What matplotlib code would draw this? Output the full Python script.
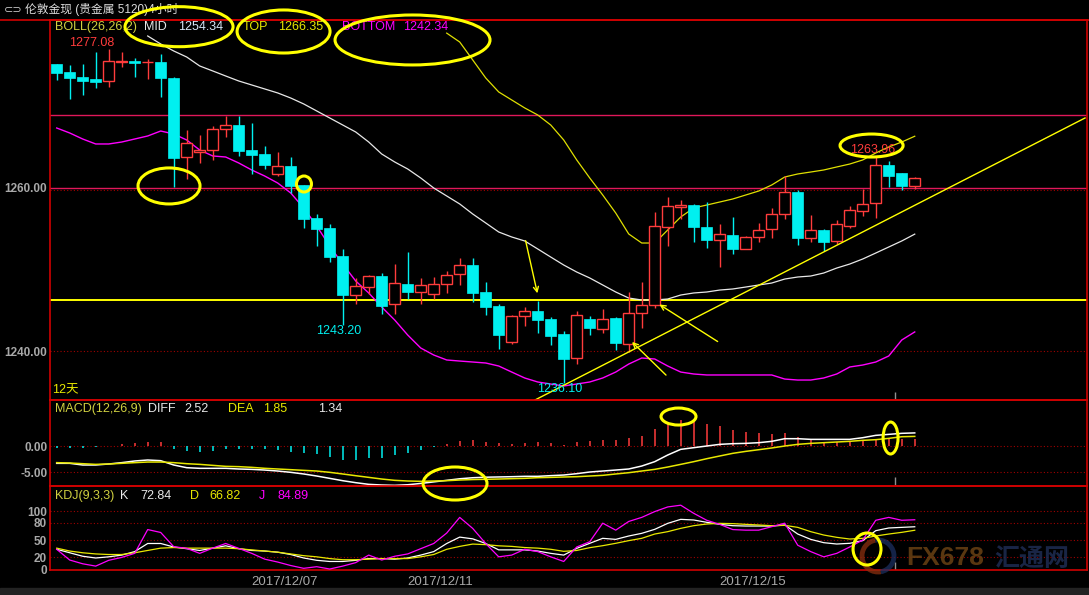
import numpy as np
import matplotlib
matplotlib.use('Agg')
import matplotlib.pyplot as plt
from matplotlib.patches import Ellipse, Arc, Rectangle
from matplotlib.lines import Line2D

plt.rcParams['font.family'] = ['Liberation Sans', 'Noto Sans CJK SC', 'DejaVu Sans']

nan = np.nan

# ---------------- data ----------------
opens = [1275.21, 1274.23, 1273.62, 1273.34, 1273.17, 1275.48, 1275.62, 1275.42, 1275.42, 1273.46,
         1263.77, 1264.45, 1264.63, 1267.28, 1267.69, 1264.66, 1264.17, 1261.72, 1262.74, 1260.37,
         1256.32, 1255.06, 1251.66, 1246.91, 1247.82, 1249.20, 1245.80, 1248.22, 1247.28, 1247.00,
         1248.18, 1249.41, 1250.55, 1247.20, 1245.52, 1241.07, 1244.34, 1244.91, 1243.93, 1242.05,
         1239.12, 1243.89, 1242.74, 1244.05, 1240.86, 1244.63, 1245.64, 1255.18, 1257.71, 1257.88,
         1255.18, 1253.60, 1254.20, 1252.48, 1253.95, 1254.93, 1256.77, 1259.51, 1253.83, 1254.85,
         1253.46, 1255.37, 1257.21, 1258.12, 1262.82, 1261.84, 1260.28]
highs = [1275.21, 1275.09, 1275.21, 1276.65, 1277.08, 1276.65, 1275.91, 1275.83, 1276.44, 1273.58,
         1267.12, 1266.50, 1267.61, 1268.83, 1268.83, 1268.01, 1265.15, 1264.45, 1263.84, 1260.40,
         1256.77, 1255.58, 1252.52, 1248.96, 1249.33, 1249.60, 1250.67, 1252.18, 1248.96, 1249.12,
         1249.82, 1251.37, 1251.37, 1248.43, 1245.73, 1244.42, 1245.36, 1246.13, 1244.13, 1242.45,
         1244.91, 1244.29, 1245.15, 1244.20, 1247.28, 1248.50, 1257.09, 1258.86, 1258.53, 1258.04,
         1258.28, 1255.55, 1256.40, 1254.07, 1255.67, 1257.55, 1261.44, 1259.72, 1256.69, 1255.00,
         1256.07, 1257.79, 1259.84, 1263.96, 1263.31, 1261.84, 1261.39]
lows = [1273.25, 1270.96, 1271.41, 1272.31, 1272.44, 1274.81, 1273.66, 1273.37, 1271.13, 1260.16,
        1261.07, 1263.03, 1263.44, 1266.29, 1263.96, 1261.72, 1262.33, 1261.51, 1259.35, 1255.13,
        1252.92, 1250.96, 1243.20, 1245.80, 1247.00, 1244.54, 1244.54, 1246.42, 1245.80, 1246.38,
        1247.15, 1248.10, 1246.05, 1244.42, 1240.28, 1240.86, 1243.10, 1242.25, 1240.77, 1236.10,
        1238.40, 1241.96, 1242.21, 1240.12, 1239.91, 1242.78, 1245.24, 1252.92, 1256.16, 1253.41,
        1252.67, 1250.27, 1251.90, 1252.48, 1253.41, 1253.90, 1256.16, 1253.04, 1253.41, 1252.31,
        1253.13, 1255.13, 1256.56, 1256.36, 1260.16, 1259.75, 1259.88]
closes = [1274.15, 1273.53, 1273.17, 1273.04, 1275.62, 1275.58, 1275.37, 1275.50, 1273.53, 1263.64,
          1265.48, 1264.66, 1267.20, 1267.69, 1264.58, 1264.09, 1262.82, 1262.70, 1260.28, 1256.20,
          1254.97, 1251.57, 1246.91, 1247.98, 1249.17, 1245.56, 1248.31, 1247.28, 1248.06, 1248.22,
          1249.33, 1250.55, 1247.15, 1245.44, 1242.00, 1244.26, 1244.87, 1243.84, 1241.88, 1239.06,
          1244.38, 1242.86, 1243.89, 1241.02, 1244.63, 1245.61, 1255.30, 1257.75, 1257.95, 1255.25,
          1253.66, 1254.32, 1252.48, 1253.95, 1254.81, 1256.77, 1259.47, 1253.90, 1254.81, 1253.34,
          1255.55, 1257.26, 1258.04, 1262.79, 1261.51, 1260.28, 1261.19]

boll_mid = [nan, nan, nan, nan, nan, nan, nan, 1278.65, 1277.67, 1276.81,
            1276.07, 1274.97, 1274.36, 1273.74, 1273.13, 1272.64, 1272.15, 1271.66, 1271.04, 1270.31,
            1269.45, 1268.59, 1267.73, 1266.87, 1265.64, 1264.17, 1263.19, 1262.33, 1261.23, 1260.00,
            1259.02, 1258.04, 1256.81, 1255.71, 1254.60, 1253.99, 1253.50, 1252.52, 1251.53, 1250.55,
            1249.69, 1248.96, 1248.10, 1247.24, 1246.50, 1246.26, 1246.26, 1246.38, 1246.87, 1247.12,
            1247.24, 1247.48, 1247.61, 1247.85, 1248.10, 1248.34, 1248.83, 1249.08, 1249.20, 1249.57,
            1250.18, 1250.67, 1251.29, 1252.02, 1252.76, 1253.50, 1254.34]
boll_top = [nan] * 30 + [1279.00, 1277.91, 1275.71, 1273.50, 1271.78, 1270.80, 1269.82, 1268.96, 1267.73, 1265.89,
                         1263.44, 1261.23, 1259.14, 1256.93, 1254.36, 1253.25, 1253.25, 1254.85, 1256.44, 1257.55,
                         1257.91, 1258.28, 1258.65, 1259.14, 1259.63, 1260.37, 1261.35, 1261.72, 1261.96, 1262.21,
                         1262.58, 1262.94, 1263.44, 1264.29, 1265.03, 1265.64, 1266.35]
boll_bot = [1267.36, 1266.75, 1266.01, 1265.40, 1265.40, 1265.64, 1266.01, 1266.38, 1266.99, 1266.63,
            1265.89, 1264.66, 1263.93, 1263.80, 1263.07, 1262.21, 1261.47, 1260.61, 1259.39, 1257.55,
            1255.34, 1252.88, 1250.67, 1248.59, 1247.12, 1245.40, 1243.80, 1241.96, 1240.37, 1239.51,
            1238.90, 1238.77, 1238.65, 1238.53, 1238.16, 1237.42, 1236.69, 1236.20, 1235.95, 1235.71,
            1235.95, 1236.20, 1236.69, 1237.42, 1238.40, 1239.14, 1239.02, 1238.16, 1237.42, 1237.18,
            1237.06, 1237.06, 1237.06, 1237.06, 1237.06, 1237.06, 1236.56, 1236.44, 1236.44, 1236.69,
            1237.18, 1238.04, 1238.28, 1238.65, 1239.39, 1241.35, 1242.34]

macd_hist = [-0.3, -0.3, -0.3, -0.25, 0.0, 0.3, 0.6, 0.8, 0.8, -0.5,
             -1.0, -1.15, -1.0, -0.65, -0.65, -0.65, -0.65, -0.75, -1.1, -1.3,
             -1.6, -2.05, -2.7, -2.75, -2.4, -2.4, -1.8, -1.3, -0.7, -0.2,
             0.3, 0.9, 1.15, 0.85, 0.5, 0.45, 0.65, 0.83, 0.65, 0.25,
             0.83, 1.0, 1.2, 1.2, 1.6, 2.0, 3.35, 4.4, 5.05, 4.6,
             4.3, 3.9, 3.15, 2.75, 2.55, 2.35, 2.55, 1.8, 1.4, 0.83,
             0.7, 0.83, 0.95, 1.4, 1.6, 1.4, 1.34]
macd_diff = [-3.33, -3.33, -3.65, -3.65, -3.46, -3.2, -2.88, -2.69, -2.82, -3.65,
             -4.17, -4.29, -4.29, -4.29, -4.42, -4.49, -4.62, -4.81, -5.06, -5.38,
             -5.77, -6.22, -6.67, -7.05, -7.37, -7.5, -7.56, -7.45, -7.2, -6.9,
             -6.6, -6.3, -6.1, -6.0, -5.95, -5.9, -5.83, -5.83, -5.7, -5.58,
             -5.32, -5.0, -4.81, -4.62, -4.42, -3.85, -3.01, -1.73, -0.64, -0.32,
             0.0, 0.32, 0.45, 0.51, 0.64, 0.9, 1.41, 1.41, 1.28, 1.28,
             1.28, 1.28, 1.6, 2.05, 2.24, 2.44, 2.52]
macd_dea = [-3.2, -3.27, -3.4, -3.53, -3.46, -3.33, -3.2, -3.08, -3.08, -3.2,
            -3.4, -3.53, -3.72, -3.91, -3.97, -4.1, -4.29, -4.42, -4.55, -4.68,
            -4.81, -5.06, -5.38, -5.71, -6.03, -6.35, -6.6, -6.73, -6.79, -6.73,
            -6.67, -6.54, -6.45, -6.4, -6.35, -6.28, -6.22, -6.09, -6.03, -5.96,
            -5.9, -5.77, -5.64, -5.38, -5.13, -4.81, -4.49, -4.04, -3.53, -3.01,
            -2.44, -1.92, -1.41, -1.03, -0.71, -0.38, 0.0, 0.32, 0.51, 0.64,
            0.77, 0.9, 1.09, 1.22, 1.47, 1.79, 1.85]

kdj_k = [34, 28, 22, 19, 21, 24, 30, 44, 44, 38,
         35, 32, 36, 40, 35, 32, 31, 29, 25, 19,
         15, 13, 13, 15, 18, 18, 17, 19, 24, 30,
         44, 55, 52, 44, 33, 33, 33, 31, 27, 24,
         35.6, 44.3, 52.9, 51.1, 56.9, 61.5, 68.4, 78.7, 85.6, 84.5,
         80.5, 77, 74.7, 74.1, 74.1, 74, 75.9, 60.3, 51.1, 45.4,
         43.1, 44.3, 48.9, 66.1, 70.7, 71.8, 72.84]
kdj_d = [36, 31, 28, 26, 25, 25, 28, 32, 36, 37,
         36, 36, 36, 36, 35, 33, 31, 29, 26, 23,
         21, 18, 16, 16, 17, 18, 18, 18, 21, 25,
         34, 39, 43, 42, 40, 39, 37, 36, 34, 30.5,
         32, 36.8, 40.2, 44.3, 48.9, 52.9, 60.3, 64.4, 70.1, 74.7,
         77.6, 78.7, 78.2, 77, 75.9, 74.7, 75.3, 71.8, 64.4, 58.6,
         54.6, 51.7, 52.9, 56.9, 60.3, 63.2, 66.82]
kdj_j = [34, 15.5, 9, 5, 15, 20, 27, 68, 63, 38.5,
         35.6, 27, 36, 44, 35.6, 27, 17, 12, 6, 1.2,
         4, 0, 5, 11, 24, 15.5, 22, 26, 35, 44,
         62, 89, 70, 44, 21, 24, 34, 30, 21, 13,
         38, 47, 79, 67, 82, 89, 99, 107, 110, 96,
         84, 77, 68, 67, 67, 73, 79, 41, 30, 21,
         27, 38, 50, 84, 89, 84, 84.89]

date_pos = [15, 27, 51]
date_labels = ['2017/12/07', '2017/12/11', '2017/12/15']

price_ticks = [1240, 1260]
macd_ticks = [0, -5]
kdj_ticks = [0, 20, 50, 80, 100]

# user-drawn annotation lines (data units: candle index, price)
hline_yellow = 1246.26
hline_pink = [1268.96, 1260.00]
trend_x = [36.79, 79.10]
trend_y = [1233.99, 1268.59]
arrows = [((36.02, 1253.87), (37.02, 1246.75)),
          ((51.02, 1240.98), (46.18, 1245.89)),
          ((47.02, 1236.81), (44.10, 1241.35))]

# ---------------- layout ----------------
W, H, DPI = 1089, 595, 100
RED = '#ff3c3c'
CYAN = '#00f0f0'
BORDER = '#d00000'
GRID = '#a00000'
YEL = '#e8e800'
OLIVE = '#d0d040'
MAG = '#ff00ff'
GRAY = '#a8a8a8'

fig = plt.figure(figsize=(W / DPI, H / DPI), dpi=DPI, facecolor='black')


def rect(x0, y0, x1, y1):
    return [x0 / W, 1 - y1 / H, (x1 - x0) / W, (y1 - y0) / H]


ax = fig.add_axes(rect(50, 20, 1087, 400))
axm = fig.add_axes(rect(50, 400, 1087, 486), sharex=ax)
axk = fig.add_axes(rect(50, 486, 1087, 570), sharex=ax)

for a in (ax, axm, axk):
    a.set_facecolor('none')
    for s in a.spines.values():
        s.set_color(BORDER)
        s.set_linewidth(1.2)
    a.tick_params(length=0, colors=GRAY, labelsize=8.5, pad=2)

ax.set_xlim(-0.515, 79.25)
ax.set_ylim(1233.99, 1280.61)
axm.set_ylim(-7.69, 8.85)
axk.set_ylim(-1.7, 143.1)

n = len(opens)
idx = np.arange(n)

# grid
dot = (0, (1, 2))
for v in price_ticks:
    ax.axhline(v - 0.2 if v == 1260 else v, color=GRID, lw=0.8, ls=dot, zorder=1)
for v in macd_ticks:
    axm.axhline(v, color=GRID, lw=0.8, ls=dot, zorder=1)
for v in [20, 50, 80, 100]:
    axk.axhline(v, color=GRID, lw=0.8, ls=dot, zorder=1)

# user lines
for v in hline_pink:
    ax.axhline(v, color='#e0185a', lw=1.0, zorder=2)
ax.axhline(hline_yellow, color='#ffff00', lw=1.4, zorder=2)

# Bollinger
ax.plot(idx, boll_mid, color='#e8e8e8', lw=0.9, zorder=3)
ax.plot(idx, boll_top, color='#e0e000', lw=0.9, zorder=3)
ax.plot(idx, boll_bot, color=MAG, lw=1.0, zorder=3)

# candles
bw = 0.82
for i in idx:
    o, h, l, c = opens[i], highs[i], lows[i], closes[i]
    top, bot = max(o, c), min(o, c)
    if c >= o:
        ax.vlines(i, top, h, color=RED, lw=1.0, zorder=4)
        ax.vlines(i, l, bot, color=RED, lw=1.0, zorder=4)
        ax.bar(i, max(top - bot, 0.02), bottom=bot, width=bw, facecolor='black',
               edgecolor=RED, linewidth=1.0, zorder=5)
    else:
        ax.vlines(i, l, h, color=CYAN, lw=1.0, zorder=4)
        ax.bar(i, max(top - bot, 0.12), bottom=bot, width=bw, facecolor=CYAN,
               edgecolor=CYAN, linewidth=0.5, zorder=5)

# trend line & arrows
ax.plot(trend_x, trend_y, color='#ffff00', lw=1.0, zorder=6, clip_on=True)
for start, tip in arrows:
    ax.annotate('', xy=tip, xytext=start,
                arrowprops=dict(arrowstyle='->', color='#ffff00', lw=1.0, mutation_scale=9),
                zorder=6)

# high/low labels
ax.text(2.7, 1277.08, '1277.08', color=RED, fontsize=9, ha='center', va='bottom', zorder=7)
ax.text(21.7, 1243.20, '1243.20', color=CYAN, fontsize=9, ha='center', va='top', zorder=7)
ax.text(38.7, 1236.10, '1236.10', color=CYAN, fontsize=9, ha='center', va='top', zorder=7)
ax.text(62.75, 1263.96, '1263.96', color=RED, fontsize=9, ha='center', va='bottom', zorder=7)

# MACD
hcol = [RED if v > 0 else CYAN for v in macd_hist]
axm.vlines(idx, 0, macd_hist, colors=hcol, lw=1.1, zorder=3)
axm.plot(idx, macd_diff, color='white', lw=1.1, zorder=4)
axm.plot(idx, macd_dea, color='#e8e800', lw=1.1, zorder=4)

# KDJ
axk.plot(idx, kdj_k, color='white', lw=0.9, zorder=4)
axk.plot(idx, kdj_d, color='#e8e800', lw=0.9, zorder=4)
axk.plot(idx, kdj_j, color=MAG, lw=0.9, zorder=4)

# cursor ticks
ax.vlines(64.5, 1233.99, 1234.97, color='#909090', lw=1)
axm.vlines(64.5, -7.69, -5.96, color='#909090', lw=1)
axk.vlines(64.5, -1.7, 12, color='#909090', lw=1)

# ticks
ax.set_yticks(price_ticks)
ax.set_yticklabels(['%.2f' % v for v in price_ticks], fontweight='bold')
axm.set_yticks(macd_ticks)
axm.set_yticklabels(['%.2f' % v for v in macd_ticks], fontweight='bold')
axk.set_yticks(kdj_ticks)
axk.set_yticklabels([str(v) for v in kdj_ticks], fontweight='bold')
axk.set_xticks(date_pos)
axk.set_xticklabels(date_labels, fontsize=9.5, color=GRAY)
for lb in axk.get_xticklabels():
    lb.set_ha('left')
axk.tick_params(axis='x', pad=4)
ax.tick_params(labelbottom=False)
axm.tick_params(labelbottom=False)

# ellipses (hand annotations) in data coordinates
ell = [(ax, 9.41, 1279.79, 8.31, 4.91), (ax, 17.45, 1279.20, 7.15, 5.28),
       (ax, 27.37, 1278.16, 11.92, 6.13), (ax, 8.64, 1260.25, 4.77, 4.42),
       (ax, 19.02, 1260.49, 1.15, 1.96), (ax, 62.68, 1265.21, 4.85, 2.82),
       (axm, 47.83, 5.67, 2.69, 3.27), (axm, 64.14, 1.54, 1.15, 6.15),
       (axm, 30.64, -7.21, 4.92, 6.35), (axk, 62.33, 34.5, 2.15, 55.2)]
for a, cx, cy, w, h in ell:
    fig.add_artist(Ellipse((cx, cy), w, h, transform=a.transData, fill=False,
                           edgecolor='#ffff00', lw=2.2, zorder=10))


# texts
def ftxt(x, y, s, color, size=9, **kw):
    fig.text(x / W, 1 - y / H, s, color=color, fontsize=size, va='center', ha='left', **kw)


fig.add_artist(Line2D([0, 1], [1 - 20 / H] * 2, transform=fig.transFigure, color=BORDER, lw=1.2))
ftxt(4, 10, '⊂⊃', '#c8c8c8', size=8, family='DejaVu Sans')
ftxt(25, 10, '伦敦金现 (贵金属 5120)4小时', '#dcdcdc', size=8.5)

ftxt(55, 27, 'BOLL(26,26,2)', OLIVE)
ftxt(144, 27, 'MID', '#e8e8e8')
ftxt(178, 27, '1254.34', '#d8e8f8')
ftxt(243, 27, 'TOP', YEL)
ftxt(278, 27, '1266.35', YEL)
ftxt(342, 27, 'BOTTOM', MAG)
ftxt(403, 27, '1242.34', MAG)
ftxt(52, 390, '12天', YEL)

ftxt(55, 409, 'MACD(12,26,9)', OLIVE)
ftxt(148, 409, 'DIFF', '#e8e8e8')
ftxt(184, 409, '2.52', '#e8e8e8')
ftxt(228, 409, 'DEA', YEL)
ftxt(263, 409, '1.85', YEL)
ftxt(318, 409, '1.34', '#e8e8e8')

ftxt(55, 496, 'KDJ(9,3,3)', OLIVE)
ftxt(120, 496, 'K', '#e8e8e8')
ftxt(140, 496, '72.84', '#e8e8e8')
ftxt(190, 496, 'D', YEL)
ftxt(209, 496, '66.82', YEL)
ftxt(259, 496, 'J', MAG)
ftxt(277, 496, '84.89', MAG)

# watermark
fig.add_artist(Arc((8.78, (H - 556) / DPI), 0.32, 0.32, theta1=100, theta2=280,
                   transform=fig.dpi_scale_trans, color='#8a3010', lw=3.5, alpha=0.75, zorder=8))
fig.add_artist(Arc((8.78, (H - 556) / DPI), 0.32, 0.32, theta1=280, theta2=100,
                   transform=fig.dpi_scale_trans, color='#1c3060', lw=3.5, alpha=0.75, zorder=8))
fig.text(906 / W, 1 - 570 / H, 'FX678', color='#6a4214', fontsize=19, fontweight='bold',
         ha='left', va='bottom', alpha=0.85, zorder=8, family='Liberation Sans')
fig.text(994 / W, 1 - 571 / H, '汇通网', color='#1e2c52', fontsize=18, fontweight='bold',
         ha='left', va='bottom', alpha=0.85, zorder=8, family=['Noto Sans CJK SC'])

# bottom strip
fig.add_artist(Rectangle((0, 0), 1, 7 / H, transform=fig.transFigure, color='#222222', zorder=0))

fig.savefig('out.png', dpi=DPI, facecolor='black')
